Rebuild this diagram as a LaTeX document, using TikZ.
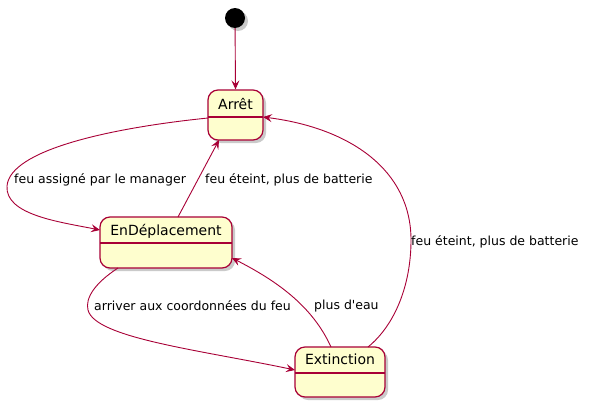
\documentclass[tikz,border=0pt]{standalone}
\usepackage{fontspec}
\setmainfont{DejaVu Sans}
\usetikzlibrary{arrows.meta,shadows}
\definecolor{pborder}{HTML}{A80036}
\definecolor{pfill}{HTML}{FEFECE}
\tikzset{
  stbox/.style={draw=pborder, line width=1.2pt, fill=pfill, rounded corners=10pt,
    drop shadow={shadow xshift=3pt, shadow yshift=-3pt, fill=black!35, opacity=0.6},
    inner sep=0pt},
  stname/.style={font=\fontsize{14}{16}\selectfont, inner sep=0pt},
  sep/.style={draw=pborder, line width=1.2pt},
  edge/.style={draw=pborder, line width=0.9pt, -{Stealth[length=9pt,width=8pt,inset=3.5pt]}},
  lbl/.style={font=\fontsize{12.5}{14}\selectfont, anchor=west, inner sep=0pt}
}
\begin{document}
\begin{tikzpicture}[x=1pt,y=-1pt]
\useasboundingbox (0,0) rectangle (591,407);
% start
\node[circle, fill=black, minimum size=20pt, inner sep=0pt,
  drop shadow={shadow xshift=3pt, shadow yshift=-3pt, fill=black!35, opacity=0.6}] (start) at (235,18) {};
% states
\node[stbox, minimum width=55pt, minimum height=50pt] (arret) at (235.5,115) {};
\node[stname] (arretT) at (235.5,104) {Arrêt};
\draw[sep] (208,117) -- (263,117);

\node[stbox, minimum width=132pt, minimum height=51pt] (depl) at (166,242.5) {};
\node[stname] (deplT) at (166,231) {EnDéplacement};
\draw[sep] (100,243) -- (232,243);

\node[stbox, minimum width=90pt, minimum height=50pt] (ext) at (340,372) {};
\node[stname] (extT) at (340,359) {Extinction};
\draw[sep] (295,373) -- (385,373);

% coordinates on borders
\coordinate (a1) at (208,118);
\coordinate (a2) at (219,140);
\coordinate (a3) at (263,117);
\coordinate (d1) at (100,230);
\coordinate (d2) at (178,217);
\coordinate (d3) at (118,268);
\coordinate (d4) at (232,258);
\coordinate (e1) at (295,370);
\coordinate (e2) at (331,347);
\coordinate (e3) at (368,347);

% edges
\draw[edge] (start) -- (arret.north);
\draw[edge] (a1) .. controls (110,128) and (10,150) .. (7,186) .. controls (5,215) and (60,222) .. (d1);
\draw[edge] (d2) -- (a2);
\draw[edge] (d3) .. controls (95,283) and (85,298) .. (88,310) .. controls (95,338) and (200,350) .. (e1);
\draw[edge] (e2) .. controls (312,305) and (275,280) .. (d4);
\draw[edge] (e3) .. controls (395,325) and (411,285) .. (411,240) .. controls (411,170) and (350,128) .. (a3);

% labels
\node[lbl] (l1) at (14,180) {feu assigné par le manager};
\node[lbl] (l2) at (205,180) {feu éteint, plus de batterie};
\node[lbl] (l3) at (94,306) {arriver aux coordonnées du feu};
\node[lbl] (l4) at (314,306) {plus d\textquotesingle eau};
\node[lbl] (l5) at (411,242) {feu éteint, plus de batterie};
\end{tikzpicture}
\end{document}
